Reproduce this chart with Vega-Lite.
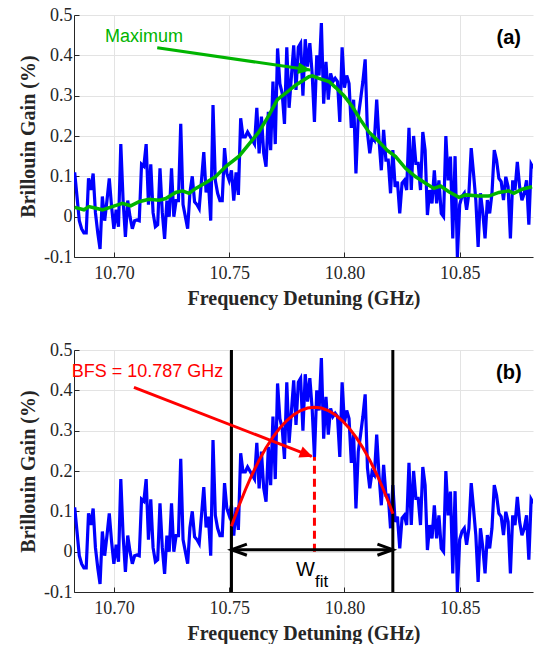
{
  "$schema": "https://vega.github.io/schema/vega-lite/v6.json",
  "background": "white",
  "padding": {"left": 18, "top": 6, "right": 1, "bottom": 1},
  "spacing": 33,
  "config": {
    "view": {"stroke": null},
    "axis": {
      "labelFont": "Liberation Serif", "labelFontSize": 18, "labelColor": "#262626",
      "titleFont": "Liberation Serif", "titleFontSize": 20, "titleFontWeight": "bold", "titleColor": "#262626",
      "domainColor": "#262626", "gridColor": "#e3e3e3", "gridWidth": 1,
      "ticks": true, "tickSize": -5, "tickColor": "#262626", "tickWidth": 1
    },
    "axisX": {"labelPadding": 12, "titlePadding": 6},
    "axisY": {"labelPadding": 7, "titlePadding": 5}
  },
  "datasets": {
    "blue": [
      {"f":10.683,"g":0.11},{"f":10.684,"g":0.05},{"f":10.685,"g":-0.01},{"f":10.686,"g":-0.03},{"f":10.687,"g":-0.04},{"f":10.688,"g":-0.04},{"f":10.689,"g":0.095},{"f":10.690,"g":0.066},{"f":10.691,"g":0.107},{"f":10.692,"g":0.01},
      {"f":10.693,"g":-0.04},{"f":10.694,"g":-0.08},{"f":10.695,"g":0.05},{"f":10.696,"g":-0.01},{"f":10.697,"g":0.04},{"f":10.698,"g":0.095},{"f":10.699,"g":0.025},{"f":10.700,"g":-0.03},{"f":10.701,"g":0.017},{"f":10.702,"g":-0.025},
      {"f":10.703,"g":0.18},{"f":10.704,"g":0.04},{"f":10.705,"g":-0.05},{"f":10.706,"g":0.04},{"f":10.707,"g":0.0},{"f":10.708,"g":-0.03},{"f":10.709,"g":-0.01},{"f":10.710,"g":-0.008},{"f":10.711,"g":-0.01},{"f":10.712,"g":0.13},
      {"f":10.713,"g":0.125},{"f":10.714,"g":0.18},{"f":10.715,"g":0.03},{"f":10.716,"g":0.13},{"f":10.717,"g":0.01},{"f":10.718,"g":-0.025},{"f":10.719,"g":-0.02},{"f":10.720,"g":0.12},{"f":10.721,"g":0.01},{"f":10.722,"g":-0.055},
      {"f":10.723,"g":0.04},{"f":10.724,"g":0.0},{"f":10.725,"g":0.12},{"f":10.726,"g":0.0},{"f":10.727,"g":0.04},{"f":10.728,"g":0.04},{"f":10.729,"g":0.23},{"f":10.730,"g":0.03},{"f":10.731,"g":0.0},{"f":10.732,"g":-0.03},
      {"f":10.733,"g":0.06},{"f":10.734,"g":0.10},{"f":10.735,"g":0.037},{"f":10.736,"g":0.03},{"f":10.737,"g":0.02},{"f":10.738,"g":0.09},{"f":10.739,"g":0.16},{"f":10.740,"g":0.06},{"f":10.741,"g":0.087},{"f":10.742,"g":-0.01},
      {"f":10.743,"g":0.277},{"f":10.744,"g":0.09},{"f":10.745,"g":0.058},{"f":10.746,"g":0.04},{"f":10.747,"g":0.04},{"f":10.748,"g":0.17},{"f":10.749,"g":0.107},{"f":10.750,"g":0.09},{"f":10.751,"g":0.115},{"f":10.752,"g":0.04},
      {"f":10.753,"g":0.11},{"f":10.754,"g":0.054},{"f":10.755,"g":0.244},{"f":10.756,"g":0.198},{"f":10.757,"g":0.198},{"f":10.758,"g":0.21},{"f":10.759,"g":0.20},{"f":10.760,"g":0.19},{"f":10.761,"g":0.18},{"f":10.762,"g":0.27},
      {"f":10.763,"g":0.157},{"f":10.764,"g":0.248},{"f":10.765,"g":0.157},{"f":10.766,"g":0.124},{"f":10.767,"g":0.26},{"f":10.768,"g":0.165},{"f":10.769,"g":0.335},{"f":10.770,"g":0.18},{"f":10.771,"g":0.417},{"f":10.772,"g":0.33},
      {"f":10.773,"g":0.306},{"f":10.774,"g":0.23},{"f":10.775,"g":0.42},{"f":10.776,"g":0.27},{"f":10.777,"g":0.347},{"f":10.778,"g":0.425},{"f":10.779,"g":0.314},{"f":10.780,"g":0.42},{"f":10.781,"g":0.43},{"f":10.782,"g":0.30},
      {"f":10.783,"g":0.44},{"f":10.784,"g":0.372},{"f":10.785,"g":0.43},{"f":10.786,"g":0.355},{"f":10.787,"g":0.235},{"f":10.788,"g":0.40},{"f":10.789,"g":0.35},{"f":10.790,"g":0.48},{"f":10.791,"g":0.28},{"f":10.792,"g":0.384},
      {"f":10.793,"g":0.29},{"f":10.794,"g":0.355},{"f":10.795,"g":0.335},{"f":10.796,"g":0.343},{"f":10.797,"g":0.335},{"f":10.798,"g":0.235},{"f":10.799,"g":0.42},{"f":10.800,"g":0.32},{"f":10.801,"g":0.35},{"f":10.802,"g":0.33},
      {"f":10.803,"g":0.22},{"f":10.804,"g":0.29},{"f":10.805,"g":0.107},{"f":10.806,"g":0.248},{"f":10.807,"g":0.29},{"f":10.808,"g":0.335},{"f":10.809,"g":0.39},{"f":10.810,"g":0.207},{"f":10.811,"g":0.157},{"f":10.812,"g":0.198},
      {"f":10.813,"g":0.19},{"f":10.814,"g":0.29},{"f":10.815,"g":0.19},{"f":10.816,"g":0.115},{"f":10.817,"g":0.215},{"f":10.818,"g":0.14},{"f":10.819,"g":0.14},{"f":10.820,"g":0.058},{"f":10.821,"g":0.165},{"f":10.822,"g":0.074},
      {"f":10.823,"g":0.087},{"f":10.824,"g":0.008},{"f":10.825,"g":0.083},{"f":10.826,"g":0.09},{"f":10.827,"g":0.066},{"f":10.828,"g":0.22},{"f":10.829,"g":0.066},{"f":10.830,"g":0.20},{"f":10.831,"g":0.132},{"f":10.832,"g":0.132},
      {"f":10.833,"g":0.066},{"f":10.834,"g":0.21},{"f":10.835,"g":0.165},{"f":10.836,"g":0.004},{"f":10.837,"g":0.066},{"f":10.838,"g":0.033},{"f":10.839,"g":0.115},{"f":10.840,"g":0.033},{"f":10.841,"g":0.09},{"f":10.842,"g":0.008},
      {"f":10.843,"g":0.0},{"f":10.844,"g":0.20},{"f":10.845,"g":0.09},{"f":10.846,"g":0.149},{"f":10.847,"g":-0.054},{"f":10.848,"g":0.15},{"f":10.849,"g":-0.1},{"f":10.850,"g":0.03},{"f":10.851,"g":0.05},{"f":10.852,"g":0.058},
      {"f":10.853,"g":0.017},{"f":10.854,"g":0.058},{"f":10.855,"g":0.17},{"f":10.856,"g":0.107},{"f":10.857,"g":0.041},{"f":10.858,"g":-0.075},{"f":10.859,"g":0.058},{"f":10.860,"g":0.012},{"f":10.861,"g":-0.054},{"f":10.862,"g":0.041},
      {"f":10.863,"g":0.008},{"f":10.864,"g":0.058},{"f":10.865,"g":0.165},{"f":10.866,"g":0.14},{"f":10.867,"g":0.095},{"f":10.868,"g":0.087},{"f":10.869,"g":0.041},{"f":10.870,"g":0.099},{"f":10.871,"g":0.074},{"f":10.872,"g":-0.054},
      {"f":10.873,"g":0.09},{"f":10.874,"g":0.066},{"f":10.875,"g":0.136},{"f":10.876,"g":0.074},{"f":10.877,"g":0.041},{"f":10.878,"g":0.058},{"f":10.879,"g":0.09},{"f":10.880,"g":-0.02},{"f":10.881,"g":0.13},{"f":10.882,"g":0.12}
    ],
    "green": [
      {"f":10.6830,"g":0.023},{"f":10.6870,"g":0.017},{"f":10.6892,"g":0.025},{"f":10.6950,"g":0.017},{"f":10.6993,"g":0.025},{"f":10.7037,"g":0.033},{"f":10.7073,"g":0.027},{"f":10.7109,"g":0.037},{"f":10.7152,"g":0.043},{"f":10.7196,"g":0.041},
      {"f":10.7225,"g":0.045},{"f":10.7268,"g":0.06},{"f":10.7297,"g":0.064},{"f":10.7326,"g":0.058},{"f":10.7355,"g":0.07},{"f":10.7398,"g":0.084},{"f":10.7441,"g":0.099},{"f":10.7485,"g":0.124},{"f":10.7543,"g":0.15},{"f":10.7586,"g":0.18},
      {"f":10.7629,"g":0.21},{"f":10.7673,"g":0.252},{"f":10.7709,"g":0.29},{"f":10.7745,"g":0.306},{"f":10.7788,"g":0.326},{"f":10.7810,"g":0.334},{"f":10.7846,"g":0.347},{"f":10.7861,"g":0.349},{"f":10.7889,"g":0.343},{"f":10.7933,"g":0.335},
      {"f":10.7962,"g":0.32},{"f":10.7998,"g":0.30},{"f":10.8034,"g":0.273},{"f":10.8070,"g":0.24},{"f":10.8106,"g":0.21},{"f":10.8150,"g":0.186},{"f":10.8186,"g":0.164},{"f":10.8222,"g":0.149},{"f":10.8265,"g":0.12},{"f":10.8309,"g":0.099},
      {"f":10.8352,"g":0.083},{"f":10.8388,"g":0.07},{"f":10.8417,"g":0.076},{"f":10.8453,"g":0.062},{"f":10.8497,"g":0.048},{"f":10.8526,"g":0.054},{"f":10.8583,"g":0.051},{"f":10.8627,"g":0.051},{"f":10.8670,"g":0.06},{"f":10.8713,"g":0.064},
      {"f":10.8735,"g":0.058},{"f":10.8771,"g":0.068},{"f":10.8814,"g":0.074}
    ],
    "fit": [
      {"f":10.751,"g":0.063},{"f":10.754,"g":0.110},{"f":10.757,"g":0.153},{"f":10.760,"g":0.192},{"f":10.763,"g":0.227},{"f":10.766,"g":0.2575},{"f":10.769,"g":0.284},{"f":10.772,"g":0.3067},{"f":10.775,"g":0.325},{"f":10.778,"g":0.3395},
      {"f":10.781,"g":0.3498},{"f":10.784,"g":0.356},{"f":10.787,"g":0.358},{"f":10.790,"g":0.356},{"f":10.793,"g":0.3498},{"f":10.796,"g":0.3395},{"f":10.799,"g":0.325},{"f":10.802,"g":0.3067},{"f":10.805,"g":0.284},{"f":10.808,"g":0.2575},
      {"f":10.811,"g":0.227},{"f":10.814,"g":0.192},{"f":10.817,"g":0.153},{"f":10.820,"g":0.110},{"f":10.821,"g":0.094}
    ]
  },
  "vconcat": [
    {
      "width": 459, "height": 242,
      "encoding": {
        "x": {"field": "f", "type": "quantitative", "scale": {"domain": [10.6827, 10.8818], "nice": false, "zero": false},
              "axis": {"title": "Frequency Detuning (GHz)", "values": [10.70, 10.75, 10.80, 10.85], "format": ".2f"}},
        "y": {"field": "g", "type": "quantitative", "scale": {"domain": [-0.1, 0.5], "nice": false, "zero": false},
              "axis": {"title": "Brillouin Gain (%)", "values": [-0.1, 0, 0.1, 0.2, 0.3, 0.4, 0.5],
                       "labelExpr": "datum.value == 0 ? '0' : (datum.value < 0 ? '-' + format(-datum.value, '.1f') : format(datum.value, '.1f'))"}}
      },
      "layer": [
        {"data": {"name": "blue"}, "mark": {"type": "line", "color": "#0000ff", "strokeWidth": 3.2, "clip": true}},
        {"data": {"name": "green"}, "mark": {"type": "line", "color": "#00b400", "strokeWidth": 3.5, "clip": true}},
        {"data": {"values": [{"f": 10.7188, "g": 0.419}, {"f": 10.7852, "g": 0.3635}]}, "mark": {"type": "line", "color": "#00b400", "strokeWidth": 3}},
        {"data": {"values": [{"f": 10.7855, "g": 0.3633, "a": 8.3}]}, "mark": {"type": "point", "shape": "M0,0L-2,-0.9L-2,0.9Z", "filled": true, "color": "#00b400", "opacity": 1, "size": 169},
         "encoding": {"angle": {"field": "a", "type": "quantitative", "scale": null}}},
        {"data": {"values": [{"f": 10.7131, "g": 0.4455, "t": "Maximum"}]}, "mark": {"type": "text", "color": "#00b400", "font": "Liberation Sans", "fontSize": 18, "baseline": "middle", "align": "center"},
         "encoding": {"text": {"field": "t"}}},
        {"data": {"values": [{"f": 10.8713, "g": 0.443, "t": "(a)"}]}, "mark": {"type": "text", "color": "#000000", "font": "Liberation Sans", "fontSize": 20, "fontWeight": "bold", "baseline": "middle", "align": "center"},
         "encoding": {"text": {"field": "t"}}}
      ]
    },
    {
      "width": 459, "height": 242,
      "encoding": {
        "x": {"field": "f", "type": "quantitative", "scale": {"domain": [10.6827, 10.8818], "nice": false, "zero": false},
              "axis": {"title": "Frequency Detuning (GHz)", "values": [10.70, 10.75, 10.80, 10.85], "format": ".2f"}},
        "y": {"field": "g", "type": "quantitative", "scale": {"domain": [-0.1, 0.5], "nice": false, "zero": false},
              "axis": {"title": "Brillouin Gain (%)", "values": [-0.1, 0, 0.1, 0.2, 0.3, 0.4, 0.5],
                       "labelExpr": "datum.value == 0 ? '0' : (datum.value < 0 ? '-' + format(-datum.value, '.1f') : format(datum.value, '.1f'))"}}
      },
      "layer": [
        {"data": {"name": "blue"}, "mark": {"type": "line", "color": "#0000ff", "strokeWidth": 3.2, "clip": true}},
        {"data": {"values": [{"f": 10.751}, {"f": 10.821}]}, "mark": {"type": "rule", "color": "#000000", "strokeWidth": 3}, "encoding": {"y": null}},
        {"data": {"name": "fit"}, "mark": {"type": "line", "color": "#ff0000", "strokeWidth": 3}},
        {"data": {"values": [{"f": 10.787, "g": 0.0, "g2": 0.235}]}, "mark": {"type": "rule", "color": "#ff0000", "strokeWidth": 3, "strokeDash": [8, 5]},
         "encoding": {"y2": {"field": "g2"}}},
        {"data": {"values": [{"f": 10.7087, "g": 0.4075}, {"f": 10.7858, "g": 0.2362}]}, "mark": {"type": "line", "color": "#ff0000", "strokeWidth": 3}},
        {"data": {"values": [{"f": 10.7862, "g": 0.2355, "a": 21.3}]}, "mark": {"type": "point", "shape": "M0,0L-2,-0.9L-2,0.9Z", "filled": true, "color": "#ff0000", "opacity": 1, "size": 169},
         "encoding": {"angle": {"field": "a", "type": "quantitative", "scale": null}}},
        {"data": {"values": [{"f": 10.751, "f2": 10.821, "g": 0.005}]}, "mark": {"type": "rule", "color": "#000000", "strokeWidth": 3},
         "encoding": {"x2": {"field": "f2"}}},
        {"data": {"values": [{"f": 10.751, "g": 0.005}]}, "mark": {"type": "point", "shape": "M2.2,-0.8L0,0L2.2,0.8", "filled": false, "color": "#000000", "strokeWidth": 3, "opacity": 1, "size": 196}},
        {"data": {"values": [{"f": 10.821, "g": 0.005}]}, "mark": {"type": "point", "shape": "M-2.2,-0.8L0,0L-2.2,0.8", "filled": false, "color": "#000000", "strokeWidth": 3, "opacity": 1, "size": 196}},
        {"data": {"values": [{"f": 10.7146, "g": 0.4455, "t": "BFS = 10.787 GHz"}]}, "mark": {"type": "text", "color": "#ff0000", "font": "Liberation Sans", "fontSize": 18, "baseline": "middle", "align": "center"},
         "encoding": {"text": {"field": "t"}}},
        {"data": {"values": [{"f": 10.7790, "g": -0.060, "t": "W"}]}, "mark": {"type": "text", "color": "#000000", "font": "Liberation Sans", "fontSize": 20, "baseline": "alphabetic", "align": "left"},
         "encoding": {"text": {"field": "t"}}},
        {"data": {"values": [{"f": 10.7872, "g": -0.0877, "t": "fit"}]}, "mark": {"type": "text", "color": "#000000", "font": "Liberation Sans", "fontSize": 17, "baseline": "alphabetic", "align": "left"},
         "encoding": {"text": {"field": "t"}}},
        {"data": {"values": [{"f": 10.8713, "g": 0.443, "t": "(b)"}]}, "mark": {"type": "text", "color": "#000000", "font": "Liberation Sans", "fontSize": 20, "fontWeight": "bold", "baseline": "middle", "align": "center"},
         "encoding": {"text": {"field": "t"}}}
      ]
    }
  ]
}
